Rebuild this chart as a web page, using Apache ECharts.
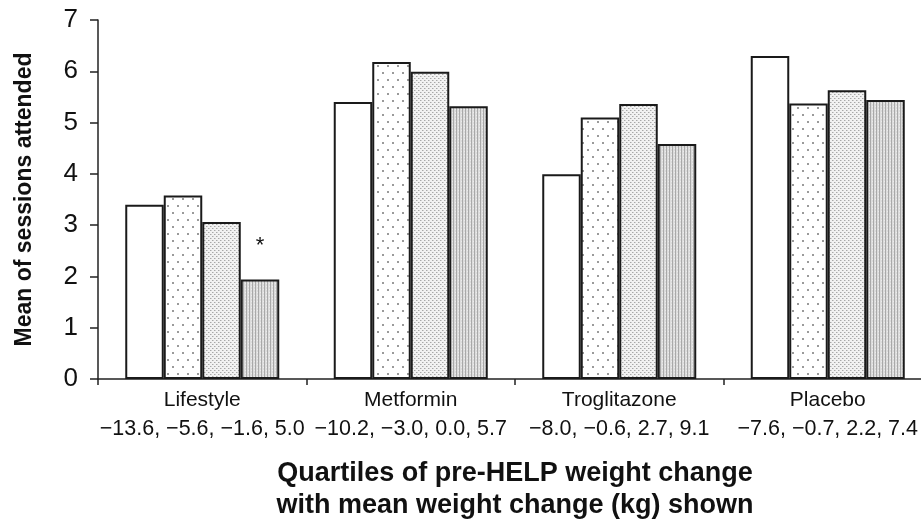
<!DOCTYPE html>
<html>
<head>
<meta charset="utf-8">
<script src="https://cdn.jsdelivr.net/npm/echarts@6/dist/echarts.min.js"></script>
<style>html,body{margin:0;padding:0;background:#fff}#c{width:921px;height:520px}</style>
</head>
<body>
<div id="c"></div>
<script>
const categories = ['Lifestyle', 'Metformin', 'Troglitazone', 'Placebo'];
const weightLabels = ['\u221213.6, \u22125.6, \u22121.6, 5.0', '\u221210.2, \u22123.0, 0.0, 5.7', '\u22128.0, \u22120.6, 2.7, 9.1', '\u22127.6, \u22120.7, 2.2, 7.4'];
const q1 = [3.40, 5.40, 3.99, 6.30];
const q2 = [3.58, 6.18, 5.10, 5.37];
const q3 = [3.06, 5.99, 5.36, 5.63];
const q4 = [1.94, 5.32, 4.58, 5.44];
const yTicks = [0, 1, 2, 3, 4, 5, 6, 7];
const yTitle = 'Mean of sessions attended';
const xTitle = 'Quartiles of pre-HELP weight change\nwith mean weight change (kg) shown';

function makePattern(kind) {
  const c = document.createElement('canvas');
  const ctx = c.getContext('2d');
  if (kind === 'sparse') {
    c.width = 10; c.height = 14;
    ctx.fillStyle = '#fff'; ctx.fillRect(0, 0, 10, 14);
    ctx.fillStyle = '#9a9a9a';
    ctx.fillRect(2, 2, 2, 2);
    ctx.fillRect(7, 9, 2, 2);
  } else if (kind === 'dense') {
    c.width = 4; c.height = 4;
    ctx.fillStyle = '#f2f2f2'; ctx.fillRect(0, 0, 4, 4);
    ctx.fillStyle = '#a8a8a8';
    ctx.fillRect(0, 0, 1, 1);
    ctx.fillRect(2, 2, 1, 1);
    ctx.fillStyle = '#cfcfcf';
    ctx.fillRect(1, 0, 1, 1);
    ctx.fillRect(3, 2, 1, 1);
  } else {
    c.width = 3; c.height = 3;
    ctx.fillStyle = '#dcdcdc'; ctx.fillRect(0, 0, 3, 3);
    ctx.fillStyle = '#a9a9a9';
    ctx.fillRect(0, 0, 1, 3);
    ctx.fillStyle = '#ececec';
    ctx.fillRect(2, 1, 1, 1);
  }
  return { image: c, repeat: 'repeat' };
}

const fills = ['#ffffff', makePattern('sparse'), makePattern('dense'), makePattern('stripes')];
const seriesData = [q1, q2, q3, q4];
const FONT = '"Liberation Sans", Arial, Helvetica, sans-serif';

const series = seriesData.map((d, i) => ({
  type: 'bar',
  data: d.map((v, j) => {
    const item = { value: v };
    if (i === 3 && j === 0) {
      item.label = { show: true, position: 'top', formatter: '*', distance: 23, fontSize: 22, color: '#111', fontFamily: FONT };
    }
    return item;
  }),
  barWidth: 38.5,
  barGap: '0%',
  itemStyle: { color: fills[i], borderColor: '#1a1a1a', borderWidth: 2 },
  emphasis: { disabled: true },
  animation: false
}));

const chart = echarts.init(document.getElementById('c'), null, { renderer: 'canvas' });
chart.setOption({
  backgroundColor: '#fff',
  animation: false,
  grid: { left: 98, right: -11, top: 20, bottom: 141, containLabel: false, outerBoundsMode: 'none' },
  xAxis: {
    type: 'category',
    data: categories,
    boundaryGap: true,
    name: xTitle,
    nameLocation: 'middle',
    nameGap: 79,
    nameTextStyle: { fontFamily: FONT, fontWeight: 'bold', fontSize: 27, lineHeight: 32, color: '#111' },
    axisLine: { lineStyle: { color: '#222', width: 1.5 } },
    axisTick: { show: true, length: 6, inside: false, alignWithLabel: false, lineStyle: { color: '#222', width: 1.5 } },
    axisLabel: {
      margin: 7,
      interval: 0,
      hideOverlap: false,
      formatter: (v, idx) => '{a|' + v + '}\n{b|' + weightLabels[idx] + '}',
      rich: {
        a: { fontFamily: FONT, fontSize: 21, lineHeight: 29, color: '#111' },
        b: { fontFamily: FONT, fontSize: 21.5, lineHeight: 29, color: '#111' }
      }
    },
    splitLine: { show: false }
  },
  yAxis: {
    type: 'value',
    min: 0,
    max: 7,
    interval: 1,
    name: yTitle,
    nameLocation: 'middle',
    nameGap: 62,
    nameTextStyle: { fontFamily: FONT, fontWeight: 'bold', fontSize: 23, color: '#111' },
    axisLine: { show: true, lineStyle: { color: '#222', width: 1.5 } },
    axisTick: { show: true, length: 8, lineStyle: { color: '#222', width: 1.5 } },
    axisLabel: { margin: 20, fontFamily: FONT, fontSize: 26, color: '#111', formatter: v => yTicks.includes(v) ? String(v) : '' },
    splitLine: { show: false }
  },
  series: series
});
</script>
</body>
</html>
